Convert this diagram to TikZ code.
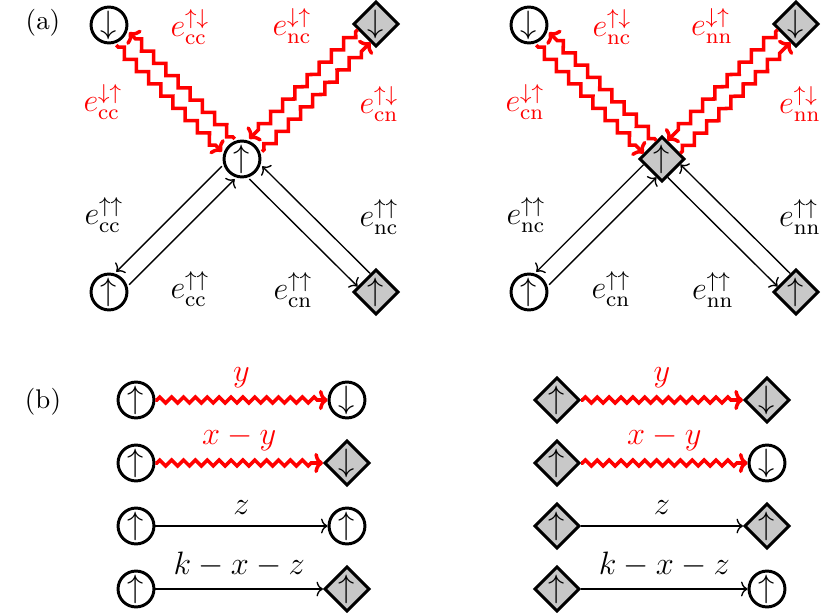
\documentclass[tikz,border=0pt]{standalone}
\usetikzlibrary{shapes.geometric,decorations.pathmorphing,arrows.meta}
\definecolor{nodegray}{RGB}{200,200,200}
\begin{document}
\begin{tikzpicture}[x=0.3704pt, y=-0.3704pt,
  cnode/.style={circle, draw, line width=1.1pt, inner sep=0pt, minimum size=13.3pt, font=\large},
  nnode/.style={diamond, draw, line width=1.1pt, fill=nodegray, inner sep=0pt, minimum size=16.7pt, font=\large},
  hop/.style={line width=0.5pt, -{To[length=2.4pt,width=5.5pt]}},
  flipa/.style={red, line width=1.3pt, -{To[length=3.2pt,width=7.5pt]}, decorate,
    decoration={zigzag, segment length=6.4pt, amplitude=1.6pt, pre length=1pt, post length=2.5pt}},
  flipb/.style={red, line width=1.3pt, -{To[length=3.2pt,width=7.5pt]}, decorate,
    decoration={zigzag, segment length=4.4pt, amplitude=1.1pt, pre length=0.5pt, post length=2.5pt}},
  toSE/.style={transform canvas={shift={(-6.4,6.4)}}},
  toNW/.style={transform canvas={shift={(6.4,-6.4)}}},
  toSW/.style={transform canvas={shift={(-6.4,-6.4)}}},
  toNE/.style={transform canvas={shift={(6.4,6.4)}}},
  elabel/.style={font=\large, inner sep=0pt},
  blabel/.style={font=\large, midway, above, inner sep=4pt},
  panel/.style={inner sep=0pt}]
\useasboundingbox (0,0) rectangle (829,613);

% panel labels
\node[panel] (pa) at (43,23) {(a)};
\node[panel] (pb) at (43,402) {(b)};

% ---------- (a) left ----------
\node[cnode] (Ltl) at (109,25) {$\downarrow$};
\node[nnode] (Ltr) at (376,24) {$\downarrow$};
\node[cnode] (Lc)  at (242,159) {$\uparrow$};
\node[cnode] (Lbl) at (109,292) {$\uparrow$};
\node[nnode] (Lbr) at (376,292) {$\uparrow$};

\draw[flipa, toSE] (Ltl) -- (Lc);
\draw[flipa, toNW] (Lc) -- (Ltl);
\draw[flipa, toSW] (Ltr) -- (Lc);
\draw[flipa, toNE] (Lc) -- (Ltr);
\draw[hop, toSW] (Lc) -- (Lbl);
\draw[hop, toNE] (Lbl) -- (Lc);
\draw[hop, toSE] (Lc) -- (Lbr);
\draw[hop, toNW] (Lbr) -- (Lc);

\node[elabel, red] (La1) at (103,102) {$e^{\downarrow\uparrow}_{\mathrm{cc}}$};
\node[elabel, red] (La2) at (190,27) {$e^{\uparrow\downarrow}_{\mathrm{cc}}$};
\node[elabel, red] (La3) at (292,26) {$e^{\downarrow\uparrow}_{\mathrm{nc}}$};
\node[elabel, red] (La4) at (379,104) {$e^{\uparrow\downarrow}_{\mathrm{cn}}$};
\node[elabel] (La5) at (104,215) {$e^{\uparrow\uparrow}_{\mathrm{cc}}$};
\node[elabel] (La6) at (190,289) {$e^{\uparrow\uparrow}_{\mathrm{cc}}$};
\node[elabel] (La7) at (293,290) {$e^{\uparrow\uparrow}_{\mathrm{cn}}$};
\node[elabel] (La8) at (379,217) {$e^{\uparrow\uparrow}_{\mathrm{nc}}$};

% ---------- (a) right ----------
\node[cnode] (Rtl) at (529,25) {$\downarrow$};
\node[nnode] (Rtr) at (796,24) {$\downarrow$};
\node[nnode] (Rc)  at (662,159) {$\uparrow$};
\node[cnode] (Rbl) at (529,292) {$\uparrow$};
\node[nnode] (Rbr) at (796,292) {$\uparrow$};

\draw[flipa, toSE] (Rtl) -- (Rc);
\draw[flipa, toNW] (Rc) -- (Rtl);
\draw[flipa, toSW] (Rtr) -- (Rc);
\draw[flipa, toNE] (Rc) -- (Rtr);
\draw[hop, toSW] (Rc) -- (Rbl);
\draw[hop, toNE] (Rbl) -- (Rc);
\draw[hop, toSE] (Rc) -- (Rbr);
\draw[hop, toNW] (Rbr) -- (Rc);

\node[elabel, red] (Ra1) at (525,102) {$e^{\downarrow\uparrow}_{\mathrm{cn}}$};
\node[elabel, red] (Ra2) at (612,27) {$e^{\uparrow\downarrow}_{\mathrm{nc}}$};
\node[elabel, red] (Ra3) at (712,26) {$e^{\downarrow\uparrow}_{\mathrm{nn}}$};
\node[elabel, red] (Ra4) at (800,104) {$e^{\uparrow\downarrow}_{\mathrm{nn}}$};
\node[elabel] (Ra5) at (526,215) {$e^{\uparrow\uparrow}_{\mathrm{nc}}$};
\node[elabel] (Ra6) at (611,289) {$e^{\uparrow\uparrow}_{\mathrm{cn}}$};
\node[elabel] (Ra7) at (713,290) {$e^{\uparrow\uparrow}_{\mathrm{nn}}$};
\node[elabel] (Ra8) at (800,217) {$e^{\uparrow\uparrow}_{\mathrm{nn}}$};

% ---------- (b) left ----------
\node[cnode] (b1a) at (136,400) {$\uparrow$};
\node[cnode] (b1b) at (347,400) {$\downarrow$};
\node[cnode] (b2a) at (136,463) {$\uparrow$};
\node[nnode] (b2b) at (347,463) {$\downarrow$};
\node[cnode] (b3a) at (136,526) {$\uparrow$};
\node[cnode] (b3b) at (347,526) {$\uparrow$};
\node[cnode] (b4a) at (136,589) {$\uparrow$};
\node[nnode] (b4b) at (347,589) {$\uparrow$};

\draw[flipb] (b1a) -- (b1b) node[blabel, red] (lb1) {$y$};
\draw[flipb] (b2a) -- (b2b) node[blabel, red] (lb2) {$x-y$};
\draw[hop] (b3a) -- (b3b) node[blabel] (lb3) {$z$};
\draw[hop] (b4a) -- (b4b) node[blabel] (lb4) {$k-x-z$};

% ---------- (b) right ----------
\node[nnode] (c1a) at (557,400) {$\uparrow$};
\node[nnode] (c1b) at (767,400) {$\downarrow$};
\node[nnode] (c2a) at (557,463) {$\uparrow$};
\node[cnode] (c2b) at (767,463) {$\downarrow$};
\node[nnode] (c3a) at (557,526) {$\uparrow$};
\node[nnode] (c3b) at (767,526) {$\uparrow$};
\node[nnode] (c4a) at (557,589) {$\uparrow$};
\node[cnode] (c4b) at (767,589) {$\uparrow$};

\draw[flipb] (c1a) -- (c1b) node[blabel, red] (lc1) {$y$};
\draw[flipb] (c2a) -- (c2b) node[blabel, red] (lc2) {$x-y$};
\draw[hop] (c3a) -- (c3b) node[blabel] (lc3) {$z$};
\draw[hop] (c4a) -- (c4b) node[blabel] (lc4) {$k-x-z$};
\end{tikzpicture}
\end{document}
